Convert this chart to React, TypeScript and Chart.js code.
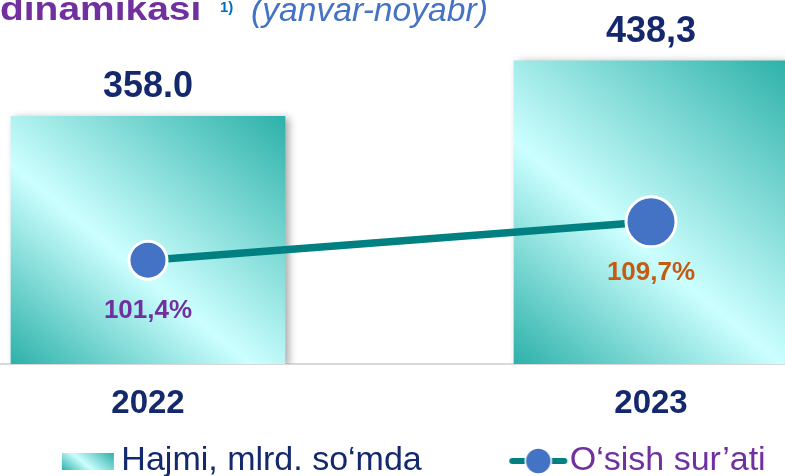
import React, { useEffect, useRef } from 'react';
import { Chart, registerables } from 'chart.js';

Chart.register(...registerables);

// ---- data ----
const categories = ['2022', '2023'];
const volumeValues = [358.0, 438.3];
const volumeLabels = ['358.0', '438,3'];
const growthValues = [101.4, 109.7];
const growthLabels = ['101,4%', '109,7%'];
const seriesNames = ['Hajmi, mlrd. so‘mda', 'O‘sish sur’ati'];
const titleMain = 'dinamikasi';
const titleNote = '1)';
const titlePeriod = '(yanvar-noyabr)';

// ---- layout / style ----
const CANVAS_LEFT = -100;
const CANVAS_W = 959;
const CANVAS_H = 488;
const X_AXIS_H = 60;
const FONT = 'Arial, "Liberation Sans", sans-serif';
const NAVY = '#14286E';
const PURPLE = '#7030A0';
const ORANGE = '#C55A11';
const NOTE_BLUE = '#0070C0';
const PERIOD_BLUE = '#4472C4';
const TEAL_DARK = '#2DB1A9';
const TEAL_LIGHT = '#CCFFFF';
const LINE_TEAL = '#008080';
const POINT_BLUE = '#4472C4';
const growthColors = [PURPLE, ORANGE];
const pointRadii = [19, 25];
const BAR_W = 274;

function tealGradient(ctx: CanvasRenderingContext2D, left: number, top: number, right: number, bottom: number) {
  const dx = 1;
  const dy = -1.2;
  const w = right - left;
  const h = bottom - top;
  const k = (w * dx + -h * dy) / (dx * dx + dy * dy);
  const g = ctx.createLinearGradient(left, bottom, left + dx * k, bottom + dy * k);
  g.addColorStop(0, TEAL_DARK);
  g.addColorStop(0.42, TEAL_LIGHT);
  g.addColorStop(1, TEAL_DARK);
  return g;
}

function makeBarIcon() {
  const c = document.createElement('canvas');
  c.width = 150;
  c.height = 34;
  const ctx = c.getContext('2d')!;
  ctx.fillStyle = tealGradient(ctx, 88, 9, 140, 26);
  ctx.fillRect(88, 9, 52, 17);
  return c;
}

function makeLineIcon() {
  const c = document.createElement('canvas');
  c.width = 150;
  c.height = 34;
  const ctx = c.getContext('2d')!;
  ctx.strokeStyle = LINE_TEAL;
  ctx.lineWidth = 6;
  ctx.lineCap = 'round';
  ctx.beginPath();
  ctx.moveTo(90, 17);
  ctx.lineTo(142, 17);
  ctx.stroke();
  ctx.beginPath();
  ctx.arc(116, 17, 13, 0, Math.PI * 2);
  ctx.fillStyle = POINT_BLUE;
  ctx.fill();
  ctx.lineWidth = 1.5;
  ctx.strokeStyle = '#FFFFFF';
  ctx.stroke();
  return c;
}

const shadowPlugin = {
  id: 'barShadow',
  beforeDatasetDraw(chart: any, args: any) {
    if (args.index === 0) {
      const ctx = chart.ctx;
      ctx.save();
      ctx.shadowColor = 'rgba(0,0,0,0.35)';
      ctx.shadowBlur = 8;
      ctx.shadowOffsetX = 4;
      ctx.shadowOffsetY = 2;
    }
  },
  afterDatasetDraw(chart: any, args: any) {
    if (args.index === 0) chart.ctx.restore();
  },
};

const labelsPlugin = {
  id: 'valueLabels',
  afterDatasetsDraw(chart: any) {
    const ctx = chart.ctx;
    ctx.save();
    ctx.textAlign = 'center';
    ctx.textBaseline = 'alphabetic';
    const barMeta = chart.getDatasetMeta(0);
    barMeta.data.forEach((el: any, i: number) => {
      ctx.font = `bold 36px ${FONT}`;
      ctx.fillStyle = NAVY;
      ctx.fillText(volumeLabels[i], el.x, el.y - 19);
    });
    const lineMeta = chart.getDatasetMeta(1);
    lineMeta.data.forEach((el: any, i: number) => {
      ctx.font = `bold 26px ${FONT}`;
      ctx.fillStyle = growthColors[i];
      ctx.fillText(growthLabels[i], el.x, el.y + 58);
    });
    ctx.restore();
  },
};

const titlePlugin = {
  id: 'cutTitle',
  afterDraw(chart: any) {
    const ctx = chart.ctx;
    const ox = -CANVAS_LEFT;
    ctx.save();
    ctx.textAlign = 'left';
    ctx.textBaseline = 'alphabetic';
    ctx.save();
    ctx.translate(ox + 0, 20);
    ctx.scale(1.18, 1);
    ctx.font = `bold 33px ${FONT}`;
    ctx.fillStyle = PURPLE;
    ctx.fillText(titleMain, 0, 0);
    ctx.restore();
    ctx.font = `bold 15px ${FONT}`;
    ctx.fillStyle = NOTE_BLUE;
    ctx.fillText(titleNote, ox + 220, 12);
    ctx.save();
    ctx.translate(ox + 251, 20.5);
    ctx.scale(1.02, 1);
    ctx.font = `italic 33px ${FONT}`;
    ctx.fillStyle = PERIOD_BLUE;
    ctx.fillText(titlePeriod, 0, 0);
    ctx.restore();
    ctx.restore();
  },
};

export default function App() {
  const ref = useRef<HTMLCanvasElement>(null);

  useEffect(() => {
    const canvas = ref.current;
    if (!canvas) return;
    const barIcon = makeBarIcon();
    const lineIcon = makeLineIcon();

    const chart = new Chart(canvas, {
      type: 'bar',
      data: {
        datasets: [
          {
            type: 'bar',
            label: seriesNames[0],
            data: categories.map((_, i) => ({ x: i, y: volumeValues[i] })),
            barThickness: BAR_W,
            borderWidth: 0,
            order: 2,
            yAxisID: 'y',
            backgroundColor: (c: any) => {
              const ch = c.chart;
              const xs = ch.scales?.x;
              const ys = ch.scales?.y;
              if (!ch.chartArea || !xs || !ys || c.type !== 'data' || !c.raw) return TEAL_DARK;
              const cx = xs.getPixelForValue(c.raw.x);
              const top = ys.getPixelForValue(c.raw.y);
              const bottom = ys.getPixelForValue(0);
              return tealGradient(ch.ctx, cx - BAR_W / 2, top, cx + BAR_W / 2, bottom);
            },
          } as any,
          {
            type: 'line',
            label: seriesNames[1],
            data: categories.map((_, i) => ({ x: i, y: growthValues[i] })),
            yAxisID: 'y2',
            order: 1,
            borderColor: LINE_TEAL,
            borderWidth: 7.5,
            fill: false,
            tension: 0,
            pointRadius: pointRadii,
            pointHoverRadius: pointRadii,
            pointBackgroundColor: POINT_BLUE,
            pointBorderColor: '#FFFFFF',
            pointBorderWidth: 3,
          } as any,
        ],
      },
      options: {
        responsive: false,
        animation: false,
        devicePixelRatio: 1,
        layout: { autoPadding: false, padding: { top: 30, left: 0, right: 0, bottom: 0 } },
        scales: {
          x: {
            type: 'linear',
            min: -0.493,
            max: 1.4135,
            offset: false,
            grid: { display: false, drawTicks: false, offset: false },
            border: { display: true, color: '#D9D9D9', width: 2 },
            afterBuildTicks: (axis: any) => {
              axis.ticks = categories.map((_, i) => ({ value: i }));
            },
            afterFit: (axis: any) => {
              axis.paddingLeft = 0;
              axis.paddingRight = 0;
              axis.height = X_AXIS_H;
            },
            ticks: {
              padding: 20,
              maxRotation: 0,
              autoSkip: false,
              color: NAVY,
              font: { family: FONT, size: 33, weight: 'bold' },
              callback: (v: any) => categories[Math.round(Number(v))] ?? '',
            },
          },
          y: { display: false, min: 0, max: 482.7 },
          y2: { display: false, position: 'right', min: 79.0, max: 151.1 },
        },
        plugins: {
          tooltip: { enabled: false },
          title: { display: false },
          legend: {
            display: true,
            position: 'bottom',
            align: 'center',
            labels: {
              usePointStyle: true,
              pointStyleWidth: 111,
              padding: 20,
              font: { family: FONT, size: 34 },
              generateLabels: () => [
                {
                  text: seriesNames[0],
                  pointStyle: barIcon,
                  fontColor: NAVY,
                  fillStyle: 'transparent',
                  strokeStyle: 'transparent',
                  lineWidth: 0,
                  hidden: false,
                  datasetIndex: 0,
                } as any,
                {
                  text: seriesNames[1],
                  pointStyle: lineIcon,
                  fontColor: PURPLE,
                  fillStyle: 'transparent',
                  strokeStyle: 'transparent',
                  lineWidth: 0,
                  hidden: false,
                  datasetIndex: 1,
                } as any,
              ],
            },
          },
        },
      } as any,
      plugins: [shadowPlugin, labelsPlugin, titlePlugin],
    });

    return () => chart.destroy();
  }, []);

  return (
    <div
      style={{
        position: 'fixed',
        left: 0,
        top: 0,
        width: 785,
        height: 476,
        overflow: 'hidden',
        background: '#FFFFFF',
      }}
    >
      <canvas
        ref={ref}
        width={CANVAS_W}
        height={CANVAS_H}
        style={{ position: 'absolute', left: CANVAS_LEFT, top: 0, width: CANVAS_W, height: CANVAS_H }}
      />
    </div>
  );
}
